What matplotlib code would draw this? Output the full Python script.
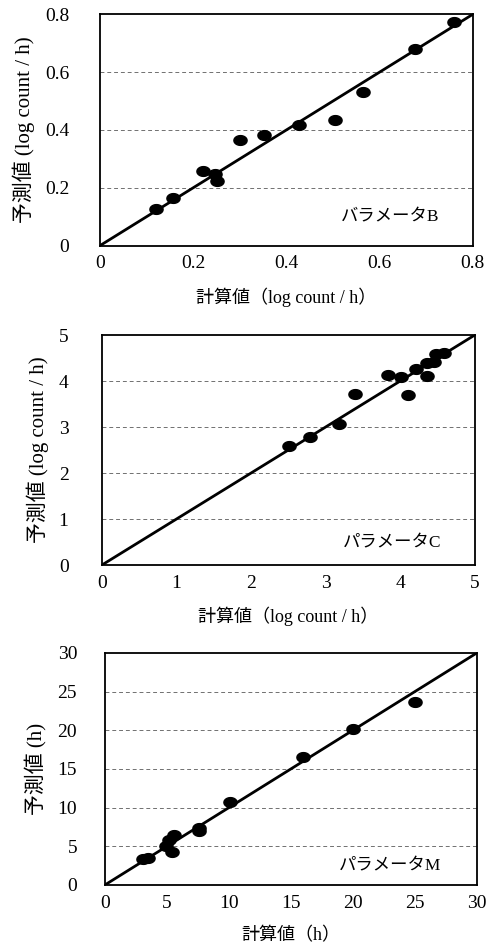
import numpy as np
import matplotlib
matplotlib.use("Agg")
import matplotlib.pyplot as plt
from matplotlib.path import Path

plt.rcParams['font.family'] = ['Liberation Serif', 'Noto Sans CJK JP']

# パラメータB (log count / h)
b_calc = [0.12, 0.157, 0.222, 0.246, 0.252, 0.30, 0.351, 0.428, 0.505, 0.564, 0.675, 0.76]
b_pred = [0.126, 0.163, 0.258, 0.247, 0.222, 0.365, 0.381, 0.416, 0.433, 0.530, 0.680, 0.773]

# パラメータC (log count / h)
c_calc = [2.51, 2.79, 3.18, 3.39, 3.83, 4.01, 4.10, 4.21, 4.36, 4.45, 4.36, 4.48, 4.59]
c_pred = [2.58, 2.79, 3.07, 3.71, 4.12, 4.09, 3.69, 4.27, 4.39, 4.42, 4.10, 4.58, 4.61]

# パラメータM (h)
m_calc = [3.1, 3.5, 4.9, 5.2, 5.6, 5.4, 7.6, 7.6, 10.1, 16.0, 20.0, 25.0]
m_pred = [3.3, 3.5, 5.0, 5.8, 6.4, 4.2, 7.4, 7.0, 10.7, 16.5, 20.2, 23.7]

panels = [
    dict(x=b_calc, y=b_pred, lim=0.8, ticks=[0, 0.2, 0.4, 0.6, 0.8],
         ticklabels=['0', '0.2', '0.4', '0.6', '0.8'],
         xlabel='計算値（log count / h）', ylabel='予測値 (log count / h)',
         name='バラメータB', pos=[0.204, 0.742, 0.761, 0.243], txt=(0.645, 0.12),
         ypad=22),
    dict(x=c_calc, y=c_pred, lim=5, ticks=[0, 1, 2, 3, 4, 5],
         ticklabels=['0', '1', '2', '3', '4', '5'],
         xlabel='計算値（log count / h）', ylabel='予測値 (log count / h)',
         name='パラメータC', pos=[0.208, 0.4065, 0.761, 0.2416], txt=(0.645, 0.095),
         ypad=24),
    dict(x=m_calc, y=m_pred, lim=30, ticks=[0, 5, 10, 15, 20, 25, 30],
         ticklabels=['0', '5', '10', '15', '20', '25', '30'],
         xlabel='計算値（h）', ylabel='予測値 (h)',
         name='パラメータM', pos=[0.214, 0.0704, 0.759, 0.2437], txt=(0.63, 0.08),
         ypad=20),
]

# slightly flattened dot like the scan
t = np.linspace(0, 2 * np.pi, 40)
ellipse = Path(np.column_stack([1.35 * np.cos(t), np.sin(t)]), closed=True)

fig = plt.figure(figsize=(4.9, 9.52), dpi=100)

for p in panels:
    ax = fig.add_axes(p['pos'])
    lim = p['lim']
    ax.set_xlim(0, lim)
    ax.set_ylim(0, lim)
    # grid lines inside only
    for yv in p['ticks'][1:-1]:
        ax.axhline(yv, color='#707070', lw=0.7, ls=(0, (4, 3)), zorder=1)
    ax.plot([0, lim], [0, lim], color='black', lw=2, zorder=2)
    ax.plot(p['x'], p['y'], ls='none', marker=ellipse, ms=9.5,
            color='black', zorder=3)
    ax.set_xticks(p['ticks'])
    ax.set_yticks(p['ticks'])
    ax.set_xticklabels(p['ticklabels'])
    ax.set_yticklabels(p['ticklabels'])
    ax.tick_params(length=0, labelsize=14)
    ax.tick_params(axis='x', pad=7)
    ax.tick_params(axis='y', pad=p['ypad'])
    for s in ax.spines.values():
        s.set_linewidth(1.3)
    ax.set_xlabel(p['xlabel'], fontsize=13, labelpad=11)
    ax.set_ylabel(p['ylabel'], fontsize=15, labelpad=7)
    ax.text(p['txt'][0], p['txt'][1], p['name'], transform=ax.transAxes,
            fontsize=12.5, va='center', ha='left')

fig.savefig('out.png', dpi=100)
